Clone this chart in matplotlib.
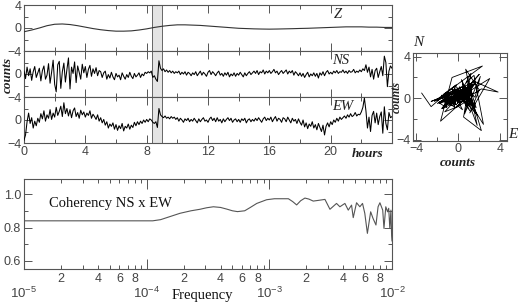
"""
Three-component record (Z, NS, EW) over one day, NS/EW hodogram,
and NS x EW coherency spectrum.
"""

import matplotlib

matplotlib.use("Agg")
import matplotlib.pyplot as plt
import numpy as np
from matplotlib.ticker import FixedLocator, FuncFormatter, LogLocator, MultipleLocator, NullFormatter

# --- data ---------------------------------------------------------------------
# Z component, every 0.5 h from 0 to 24 h (counts)
z_counts = [
    -0.65, -0.35, 0.0, 0.4, 0.65, 0.7, 0.6, 0.4, 0.15, -0.1,
    -0.3, -0.45, -0.55, -0.55, -0.5, -0.35, -0.15, 0.1, 0.3, 0.45,
    0.55, 0.55, 0.5, 0.45, 0.35, 0.25, 0.15, 0.05, -0.05, -0.1,
    -0.15, -0.18, -0.2, -0.18, -0.15, -0.12, -0.08, -0.05, 0.0, 0.05,
    0.1, 0.15, 0.2, 0.2, 0.2, 0.15, 0.15, 0.1, 0.1,
]

# NS component, every 0.1 h from 0 to 24 h (one row per hour)
ns_counts = [
    0.5, -0.8, 1.2, -0.3, 0.9, -1.1, 0.4, 1.3, -0.6, 0.2,
    1.0, -1.2, 0.6, 1.4, -0.9, -0.2, 1.8, -1.6, 0.3, 2.4,
    -1.8, -3.1, 1.6, 2.2, -2.5, 0.4, 1.9, -1.4, 0.8, 2.8,
    -2.6, 1.2, 0.1, 2.1, -1.5, 1.4, 0.3, -0.9, 1.7, 0.2,
    1.3, -0.6, 0.8, 1.5, -0.4, 0.9, 0.1, 1.1, -0.3, 0.6,
    0.4, -0.6, 0.2, 0.5, -0.9, -0.1, -0.7, 0.3, -0.5, -1.0,
    0.1, -0.5, -0.2, -1.0, 0.2, -0.4, -0.9, -0.1, -0.6, 0.3,
    -0.4, -0.8, 0.1, -0.5, -0.2, 0.2, -0.6, 0.0, -0.3, 0.3,
    0.1, 0.4, 0.2, 0.5, -0.6, -0.3, -0.9, -1.3, 2.3, 1.0,
    0.6, 0.9, 0.4, 0.7, 0.3, 0.6, 0.2, 0.5, 0.1, 0.4,
    0.2, 0.5, -0.1, 0.3, 0.0, 0.4, -0.2, 0.3, 0.1, -0.3,
    0.2, -0.1, 0.4, -0.3, 0.1, 0.5, -0.2, 0.3, 0.0, -0.4,
    0.3, 0.6, -0.1, 0.4, 0.1, -0.3, 0.2, 0.5, -0.2, 0.1,
    -0.4, 0.2, -0.2, 0.3, -0.5, 0.0, -0.3, 0.2, -0.4, 0.1,
    -0.2, 0.3, -0.1, -0.5, 0.2, -0.3, 0.1, 0.4, -0.1, 0.2,
    0.5, 0.1, 0.6, -0.1, 0.4, 0.2, 0.7, 0.0, 0.5, 0.2,
    0.6, 0.1, 0.4, 0.8, 0.2, 0.5, -0.1, 0.3, 0.6, 0.1,
    0.4, 0.7, 0.0, 0.5, 0.2, 0.6, -0.2, 0.4, 0.1, -0.3,
    0.2, -0.4, 0.1, -0.6, -0.1, 0.3, -0.5, 0.0, -0.3, 0.2,
    -0.4, 0.1, -0.7, 0.2, -0.2, 0.4, -0.3, 0.3, 0.6, 0.0,
    0.3, 0.0, 0.5, 0.2, 0.6, 0.1, 0.4, 0.3, 0.7, 0.2,
    0.5, 0.1, 0.6, 0.3, 0.4, 0.8, 0.2, 0.5, 0.3, 0.7,
    0.4, 0.9, 0.6, 1.6, 0.3, 1.2, -0.5, 0.8, -0.9, 0.6,
    1.0, -0.6, 0.4, 1.3, -0.3, 3.1, 2.0, -2.2, 0.5, 1.4,
    1.0,
]

# EW component, every 0.1 h from 0 to 24 h (one row per hour)
ew_counts = [
    -3.5, -2.6, -0.3, 1.2, -0.6, 0.4, -1.4, -0.2, -1.0, 0.3,
    -0.4, 1.1, 0.2, 1.6, -0.2, 0.9, 0.3, 1.8, 0.1, 1.2,
    0.5, 2.2, 0.8, 1.5, 2.4, 0.6, 3.0, 1.1, 2.0, 0.7,
    1.8, 0.4, 1.6, 2.1, 0.6, 1.3, 0.3, 1.7, 0.9, 1.4,
    0.5, 1.2, 0.8, 1.6, 0.3, 1.0, 0.6, 0.1, 0.9, -0.2,
    0.4, -0.5, 0.1, -0.9, -0.3, -1.4, -0.7, -1.1, -0.5, -1.6,
    -0.8, -1.8, -1.0, -1.5, -0.6, -1.9, -1.1, -1.4, -0.7, -1.6,
    -0.9, -1.3, -0.4, -1.0, -0.3, -0.8, -0.2, -0.6, 0.0, -0.4,
    0.1, -0.3, 0.2, 0.0, -0.4, -0.6, -0.3, -1.3, 2.0, 0.9,
    0.6, 0.4, 0.7, 0.3, 0.5, 0.2, 0.6, 0.3, 0.5, 0.1,
    0.4, -0.2, 0.3, 0.0, -0.4, 0.2, -0.1, 0.3, -0.3, 0.1,
    -0.2, 0.3, -0.1, -0.5, 0.2, -0.3, 0.1, 0.4, -0.2, 0.0,
    -0.4, 0.2, 0.5, -0.1, 0.3, -0.3, 0.4, -0.2, 0.1, -0.5,
    0.2, -0.3, 0.1, 0.4, -0.1, 0.3, -0.4, 0.0, 0.2, -0.3,
    0.1, -0.4, 0.2, -0.1, 0.3, -0.5, 0.0, 0.2, -0.3, 0.1,
    -0.2, 0.3, -0.1, 0.4, 0.0, -0.4, 0.2, 0.5, -0.1, 0.3,
    0.0, 0.5, -0.3, 0.2, 0.6, -0.2, 0.3, 0.1, -0.4, 0.4,
    0.2, -0.3, 0.5, 0.0, -0.5, 0.3, -0.2, 0.1, -0.6, 0.2,
    -0.4, -0.9, 0.0, -1.2, -0.5, -1.5, -0.7, -1.1, -0.3, -1.4,
    -0.8, -1.7, -0.6, -1.3, -2.0, -0.9, -2.6, -1.1, -0.5, -1.2,
    -0.3, -0.8, 0.0, -0.4, 0.3, -0.2, 0.5, 0.1, 0.4, 0.7,
    0.3, 0.9, 0.5, 1.1, 0.6, 0.8, 1.3, 0.7, 1.0, 0.9,
    1.4, 2.2, 3.8, 1.6, -1.4, 0.5, -2.0, 0.8, 1.5, -0.5,
    1.2, -0.8, 0.6, 1.4, -2.3, 2.3, -0.6, -1.7, 1.3, 0.4,
    0.6,
]

# coherency NS x EW vs frequency
coh_freq = [
    1.0e-5, 1.12e-4, 1.3e-4, 1.5e-4, 1.87e-4, 2.3e-4, 2.72e-4, 3.08e-4, 3.5e-4, 4.0e-4,
    4.5e-4, 5.0e-4, 5.5e-4, 6.3e-4, 7.0e-4, 7.9e-4, 9.5e-4, 1.1e-3, 1.43e-3, 1.55e-3,
    1.67e-3, 1.8e-3, 1.95e-3, 2.1e-3, 2.28e-3, 2.5e-3, 2.84e-3, 3.12e-3, 3.53e-3, 3.76e-3,
    4.13e-3, 4.4e-3, 4.68e-3, 4.83e-3, 5.14e-3, 5.47e-3, 5.75e-3, 6.0e-3, 6.3e-3, 6.7e-3,
    7.0e-3, 7.4e-3, 7.7e-3, 7.97e-3, 8.4e-3, 8.6e-3, 8.9e-3, 9.2e-3, 9.4e-3, 9.6e-3,
    9.8e-3, 9.93e-3, 1.0e-2,
]
coh_value = [
    0.84, 0.84, 0.847, 0.862, 0.885, 0.90, 0.909, 0.918, 0.924, 0.92,
    0.91, 0.90, 0.895, 0.90, 0.92, 0.944, 0.966, 0.972, 0.972, 0.955,
    0.935, 0.96, 0.976, 0.97, 0.958, 0.962, 0.968, 0.909, 0.944, 0.924,
    0.944, 0.904, 0.934, 0.859, 0.948, 0.924, 0.944, 0.885, 0.765, 0.894,
    0.855, 0.815, 0.924, 0.948, 0.904, 0.795, 0.924, 0.894, 0.915, 0.795,
    0.904, 0.75, 0.72,
]

event_window = (8.38, 9.03)  # hours, shaded
trace_labels = ["Z", "NS", "EW"]

SERIF = ["Liberation Serif", "DejaVu Serif"]
SANS = ["Liberation Sans", "DejaVu Sans"]
FRAME = "#555555"
TICKTXT = "#444444"


def style_axes(ax):
    for sp in ax.spines.values():
        sp.set_color(FRAME)
        sp.set_linewidth(0.8)
    ax.tick_params(which="both", direction="in", top=True, right=True,
                   color=FRAME, labelcolor=TICKTXT, labelsize=9, width=0.7)
    ax.tick_params(which="major", length=5.5)
    ax.tick_params(which="minor", length=3)


def plot_traces(fig):
    h_z = np.linspace(0, 24, len(z_counts))
    h_fine = np.linspace(0, 24, len(ns_counts))
    series = [(h_z, z_counts, "#333333", 0.8), (h_fine, ns_counts, "black", 0.75),
              (h_fine, ew_counts, "black", 0.75)]
    label_pos = [(20.5, 2.4), (20.65, 2.4), (20.8, 2.3)]

    bottoms = [1 - 51 / 304, 1 - 97 / 304, 1 - 143 / 304]
    height = 46 / 304
    axes = []
    for i, (hh, vals, col, lw) in enumerate(series):
        ax = fig.add_axes([24 / 520, bottoms[i], 368 / 520, height])
        ax.axvspan(*event_window, color="#e4e4e4", lw=0, zorder=0)
        for edge in event_window:
            ax.axvline(edge, color="#666666", lw=0.7, zorder=1)
        ax.plot(hh, vals, color=col, lw=lw, zorder=3)
        ax.set_xlim(0, 24)
        ax.set_ylim(-4, 4)
        ax.xaxis.set_major_locator(MultipleLocator(4))
        ax.xaxis.set_minor_locator(MultipleLocator(2))
        ax.yaxis.set_major_locator(FixedLocator([-4, 0, 4]))
        ax.yaxis.set_minor_locator(FixedLocator([-2, 2]))
        if i == 0:
            ax.set_yticklabels(["\u22124", "0", "4"])
        else:
            ax.set_yticklabels(["\u22124", "0", ""])
        style_axes(ax)
        if i < 2:
            ax.tick_params(labelbottom=False)
        else:
            ax.set_xticks([0, 4, 8, 12, 16, 20, 24])
            ax.set_xticklabels(["0", "4", "8", "12", "16", "20", ""])
            ax.tick_params(axis="x", pad=2.5)
        ax.tick_params(axis="y", pad=2)
        tx, ty = label_pos[i]
        ax.text(tx, ty, trace_labels[i], family=SERIF, style="italic",
                fontsize=10.5, ha="center", va="center", color="#222222")
        axes.append(ax)

    fig.text(368 / 520, 1 - 154 / 304, "hours", family=SERIF, style="italic",
             weight="bold", fontsize=9.5, ha="center", va="center", color="#222222")
    fig.text(8 / 520, 1 - 75 / 304, "counts", family=SERIF, style="italic",
             weight="bold", fontsize=9.5, rotation=90, ha="center", va="center",
             color="#222222")
    return axes


def plot_hodogram(fig):
    ax = fig.add_axes([413 / 520, 1 - 141 / 304, 94 / 520, 88 / 304])
    ax.plot(ew_counts, ns_counts, color="black", lw=0.6)
    ax.set_xlim(-4.33, 4.65)
    ax.set_ylim(-4.1, 4.35)
    ax.set_xticks([-4, 0, 4])
    ax.set_xticklabels(["\u22124", "0", "4"])
    ax.set_yticks([-4, 0, 4])
    ax.set_yticklabels(["\u22124", "0", "4"])
    ax.xaxis.set_minor_locator(FixedLocator([-2, 2]))
    ax.yaxis.set_minor_locator(FixedLocator([-2, 2]))
    style_axes(ax)
    ax.tick_params(axis="both", pad=1.5)

    fig.text(397 / 520, 1 - 97 / 304, "counts", family=SERIF, style="italic",
             weight="bold", fontsize=8.5, rotation=90, ha="center", va="center",
             color="#222222")
    fig.text(458 / 520, 1 - 163 / 304, "counts", family=SERIF, style="italic",
             weight="bold", fontsize=9.5, ha="center", va="center", color="#222222")
    fig.text(418 / 520, 1 - 42 / 304, "N", family=SERIF, style="italic",
             fontsize=11, ha="center", va="center", color="#222222")
    fig.text(513 / 520, 1 - 135 / 304, "E", family=SERIF, style="italic",
             fontsize=11, ha="center", va="center", color="#222222")
    return ax


def decade_label(x, _pos):
    return r"$10^{%d}$" % int(round(np.log10(x)))


def minor_label(x, _pos):
    mant = x / 10 ** np.floor(np.log10(x) + 1e-9)
    m = int(round(mant))
    return str(m) if m in (2, 4, 6, 8) else ""


def plot_coherency(fig):
    ax = fig.add_axes([24 / 520, 1 - 269 / 304, 368 / 520, 90 / 304])
    ax.plot(coh_freq, coh_value, color="#555555", lw=0.8)
    ax.set_xscale("log")
    ax.set_xlim(1e-5, 1e-2)
    ax.set_ylim(0.552, 1.09)
    ax.xaxis.set_major_locator(LogLocator(base=10, numticks=10))
    ax.xaxis.set_minor_locator(LogLocator(base=10, subs=np.arange(2, 10), numticks=20))
    ax.xaxis.set_major_formatter(FuncFormatter(decade_label))
    ax.xaxis.set_minor_formatter(FuncFormatter(minor_label))
    ax.yaxis.set_major_locator(FixedLocator([0.6, 0.8, 1.0]))
    ax.yaxis.set_minor_locator(FixedLocator([0.7, 0.9]))
    ax.yaxis.set_major_formatter(FuncFormatter(lambda v, p: f"{v:.1f}"))
    ax.yaxis.set_minor_formatter(NullFormatter())
    style_axes(ax)
    ax.tick_params(axis="x", which="major", length=7.5, pad=12, labelsize=9.5)
    ax.tick_params(axis="x", which="minor", length=3, pad=3)
    ax.tick_params(axis="y", pad=2)

    ax.text(1.6e-5, 0.946, "Coherency NS x EW", family=SERIF, fontsize=10.5,
            ha="left", va="center", color="#111111")
    fig.text(202 / 520, 1 - 295 / 304, "Frequency", family=SERIF, fontsize=10.5,
             ha="center", va="center", color="#111111")
    return ax


def main():
    plt.rcParams["font.family"] = SANS
    plt.rcParams["mathtext.fontset"] = "custom"
    plt.rcParams["mathtext.rm"] = "Liberation Sans"
    plt.rcParams["mathtext.it"] = "Liberation Sans:italic"
    plt.rcParams["axes.unicode_minus"] = True

    fig = plt.figure(figsize=(5.2, 3.04), dpi=100)
    plot_traces(fig)
    plot_hodogram(fig)
    plot_coherency(fig)
    fig.savefig("out.png", dpi=100)
    plt.close(fig)


if __name__ == "__main__":
    main()
